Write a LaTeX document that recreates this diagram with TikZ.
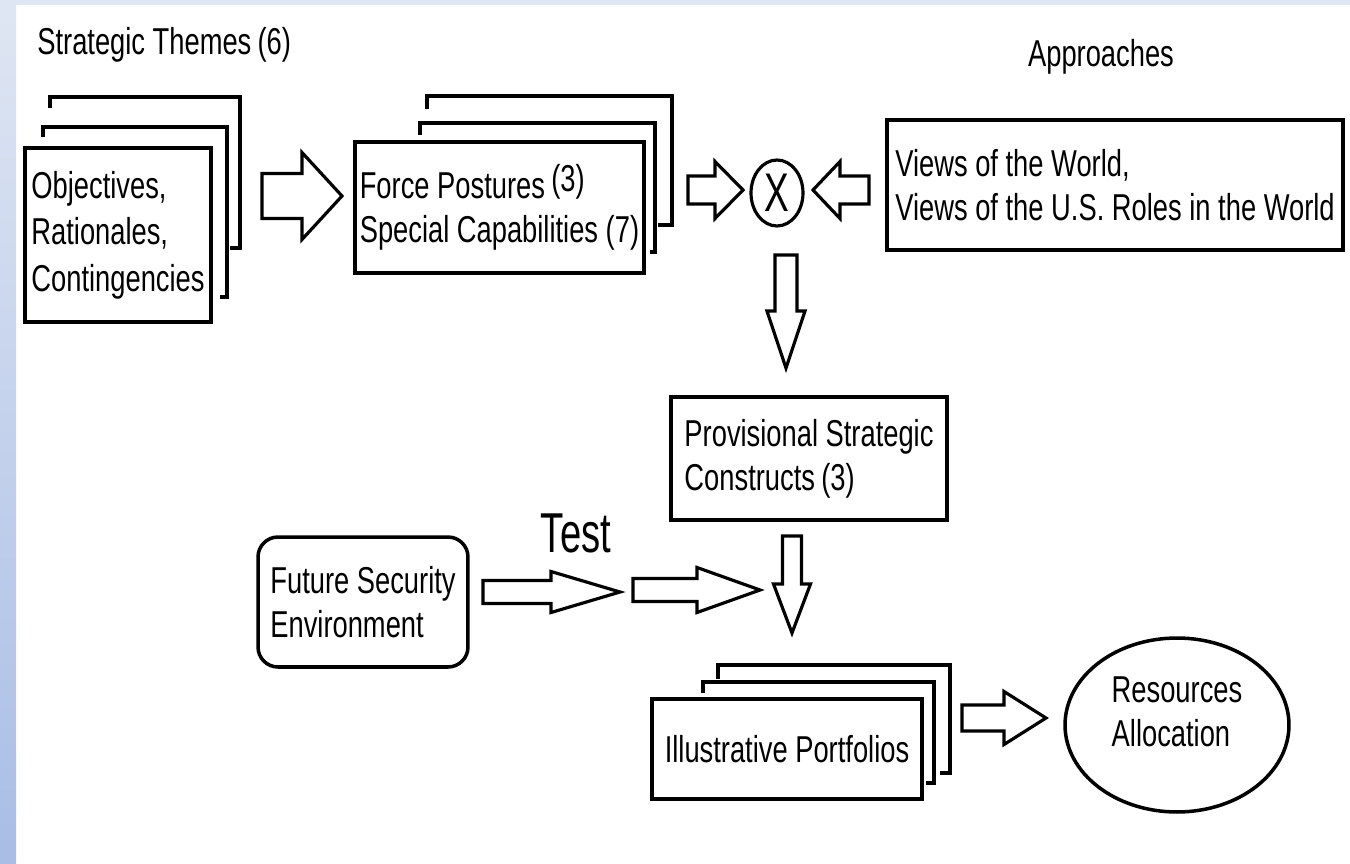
\documentclass[tikz,border=0pt]{standalone}
\usepackage{fontspec}
\setmainfont[FakeStretch=0.73]{Liberation Sans}
\newfontfamily\testfont[FakeStretch=0.68]{Liberation Sans}
\usetikzlibrary{calc,shapes.geometric}

\definecolor{bandtop}{HTML}{DFE6F3}
\definecolor{bandbot}{HTML}{A9BDE5}

\tikzset{
  txt/.style={inner sep=0pt, font=\fontsize{21.3}{25}\selectfont},
  box/.style={txt, draw, line width=2pt, fill=white, align=left},
  layer/.style={line width=2pt},
  fat/.style={draw, line width=1.8pt, fill=white},
  bigtxt/.style={inner sep=0pt, font=\testfont\fontsize{32}{36}\selectfont}
}

% block arrow: from, to, shaft half width, head half width, head length (px)
\newcommand\fatarrow[5]{%
  \draw[fat] let \p1=(#1), \p2=(#2),
    \n1={atan2(\y2-\y1,\x2-\x1)},
    \n2={scalar(veclen(\x2-\x1,\y2-\y1))/0.569055} in
    [shift={(\p1)}, rotate=\n1]
    (0,-#3) -- (\n2-#5,-#3) -- (\n2-#5,-#4) -- (\n2,0)
    -- (\n2-#5,#4) -- (\n2-#5,#3) -- (0,#3) -- cycle;}

\begin{document}
\begin{tikzpicture}[x=0.02cm, y=-0.02cm]
% fond
\useasboundingbox (0,0) rectangle (1350,863);
\fill[white] (0,0) rectangle (1350,863);
\fill[bandtop] (0,0) rectangle (1350,5);
\shade[top color=bandtop, bottom color=bandbot] (0,0) rectangle (16,863);

% titres
\node[txt, anchor=west] (themes) at (37,45) {Strategic Themes\,(6)};
\node[txt] (appr) at (1101,57) {Approaches};

% pile des themes
\draw[layer] (50,108) -- (50,97) -- (240,97) -- (240,248) -- (230,248);
\draw[layer] (43,137) -- (43,127) -- (227,127) -- (227,297) -- (220,297);
\node[box, font=\fontsize{21.3}{26.5}\selectfont, minimum width=3.72cm, minimum height=3.48cm] (obj) at (118,235)
  {Objectives,\\Rationales,\\Contingencies};

% pile des postures
\draw[layer] (427,109) -- (427,96) -- (672,96) -- (672,225) -- (658,225);
\draw[layer] (420,135) -- (420,123) -- (655,123) -- (655,252) -- (650,252);
\node[box, minimum width=5.78cm, minimum height=2.62cm] (force) at (499.5,207.5)
  {Force Postures\,\raisebox{4pt}{(3)}\\Special Capabilities (7)};

\node[box, minimum width=9.12cm, minimum height=2.6cm] (views) at (1115,185)
  {Views of the World,\\Views of the U.S. Roles in the World};
\node[draw, ellipse, line width=1.8pt, inner sep=0pt, minimum width=1.04cm,
  minimum height=1.32cm, font=\testfont\fontsize{31}{34}\selectfont] (cross) at (777,193) {X};

\node[box, minimum width=5.52cm, minimum height=2.46cm] (prov) at (809,458.5)
  {Provisional Strategic\\Constructs\,(3)};
\node[box, rounded corners=0.4cm, minimum width=4.2cm, minimum height=2.6cm] (future) at (363,602)
  {Future Security\\Environment};
\node[bigtxt] (test) at (576,533) {Test};

% pile des portefeuilles
\draw[layer] (718,679) -- (718,665) -- (950,665) -- (950,773) -- (940,773);
\draw[layer] (703,693) -- (703,682) -- (934,682) -- (934,783) -- (926,783);
\node[box, minimum width=5.4cm, minimum height=2cm] (illus) at (787,749)
  {Illustrative Portfolios};
\node[box, ellipse, minimum width=4.48cm, minimum height=3.48cm] (res) at (1177,725)
  {Resources\\Allocation\\[-10pt]\mbox{}};

% fleches
\coordinate (a1s) at (262,196);  \coordinate (a1e) at (342,196);
\coordinate (a2s) at (688,190);  \coordinate (a2e) at (743,190);
\coordinate (a3s) at (869,190);  \coordinate (a3e) at (813,190);
\coordinate (a4s) at (786,255);  \coordinate (a4e) at (786,368);
\coordinate (a5s) at (483,592);  \coordinate (a5e) at (620,592);
\coordinate (a6s) at (633,590);  \coordinate (a6e) at (760,590);
\coordinate (a7s) at (792,536);  \coordinate (a7e) at (792,633);
\coordinate (a8s) at (962,718);  \coordinate (a8e) at (1046,718);
\fatarrow{a1s}{a1e}{22.5}{43.5}{40}
\fatarrow{a2s}{a2e}{14}{28.5}{28}
\fatarrow{a3s}{a3e}{14}{28.5}{27}
\fatarrow{a4s}{a4e}{11}{19}{57}
\fatarrow{a5s}{a5e}{11.5}{20.5}{69}
\fatarrow{a6s}{a6e}{11.5}{22.5}{63}
\fatarrow{a7s}{a7e}{9.5}{18.5}{49}
\fatarrow{a8s}{a8e}{13}{26.5}{42}
\end{tikzpicture}
\end{document}
